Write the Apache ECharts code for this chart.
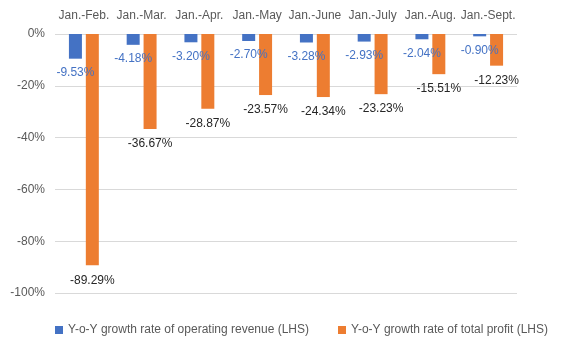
<!DOCTYPE html>
<html><head><meta charset="utf-8">
<script src="https://cdn.jsdelivr.net/npm/echarts@6/dist/echarts.min.js"></script>
<style>html,body{margin:0;padding:0;background:#fff}#c{width:564px;height:344px}</style>
</head><body><div id="c"></div>
<script>
const categories = ['Jan.-Feb.','Jan.-Mar.','Jan.-Apr.','Jan.-May','Jan.-June','Jan.-July','Jan.-Aug.','Jan.-Sept.'];
const revenue = [-9.53,-4.18,-3.20,-2.70,-3.28,-2.93,-2.04,-0.90];
const profit = [-89.29,-36.67,-28.87,-23.57,-24.34,-23.23,-15.51,-12.23];
const seriesNames = ['Y-o-Y growth rate of operating revenue (LHS)','Y-o-Y growth rate of total profit (LHS)'];
const yTicks = {min:-100, max:0, interval:20};

const font = "'Liberation Sans', 'DejaVu Sans', sans-serif";
const chart = echarts.init(document.getElementById('c'));
chart.setOption({
  animation:false,
  textStyle:{fontFamily:font},
  grid:{left:55,right:47,top:34,bottom:51},
  legend:{
    data:seriesNames, left:50, top:319, itemWidth:8, itemHeight:8, itemGap:29,
    icon:'rect', textStyle:{color:'#595959',fontSize:12,fontFamily:font}
  },
  xAxis:{
    type:'category', position:'top', data:categories,
    axisLine:{show:false}, axisTick:{show:false},
    axisLabel:{color:'#595959',fontSize:12,margin:12,interval:0,hideOverlap:false,fontFamily:font}
  },
  yAxis:{
    type:'value', min:yTicks.min, max:yTicks.max, interval:yTicks.interval,
    axisLine:{show:false}, axisTick:{show:false},
    axisLabel:{color:'#595959',fontSize:12,margin:10,formatter:v=>v+'%',fontFamily:font},
    splitLine:{lineStyle:{color:'#d9d9d9',width:1}}
  },
  series:[
    {name:seriesNames[0], type:'bar', data:revenue, barWidth:13, barGap:'30%',
     itemStyle:{color:'#4472C4'},
     label:{show:true, position:'bottom', distance:8, color:'#4472C4', fontSize:12,
       fontFamily:font, formatter:p=>p.value.toFixed(2)+'%'}},
    {name:seriesNames[1], type:'bar', data:profit, barWidth:13,
     itemStyle:{color:'#ED7D31'},
     label:{show:true, position:'bottom', distance:9, color:'#262626', fontSize:12,
       fontFamily:font, formatter:p=>p.value.toFixed(2)+'%'}}
  ]
});
</script></body></html>
